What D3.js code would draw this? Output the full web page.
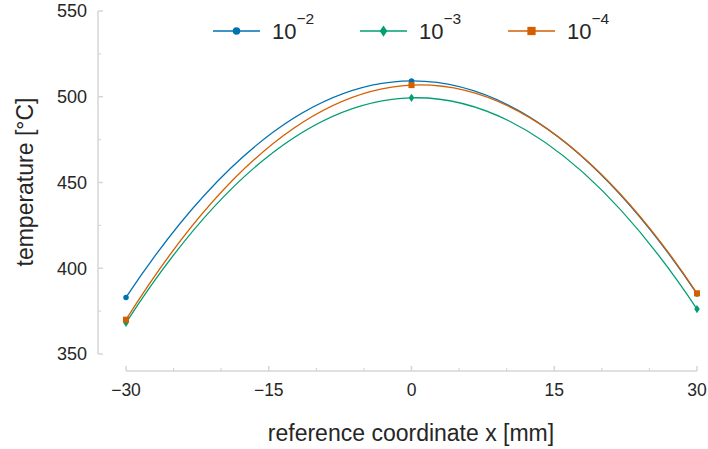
<!DOCTYPE html>
<html>
<head>
<meta charset="utf-8">
<script src="https://cdn.jsdelivr.net/npm/d3@7"></script>
<style>
  html, body { margin: 0; padding: 0; background: #fff; }
  svg { display: block; }
  text { font-family: "Liberation Sans", Arial, Helvetica, sans-serif; fill: #262626; }
</style>
</head>
<body>
<svg id="chart" width="708" height="449"></svg>
<script>
// Positions along the reference coordinate (mm)
const positions = [-30, 0, 30];

// Temperature (°C) for each tolerance setting
const temp1e2 = [383, 509.2, 385];
const temp1e3 = [368.2, 499.4, 376.2];
const temp1e4 = [370, 506.8, 385.4];

// Legend exponents and series colours
const exponents = ["\u22122", "\u22123", "\u22124"];
const colors = ["#0072B2", "#009E73", "#D55E00"];
const markers = ["circle", "diamond", "square"];

// Axis ticks
const xTicks = [-30, -15, 0, 15, 30];
const xMinorTicks = [-25, -20, -10, -5, 5, 10, 20, 25];
const yTicks = [350, 400, 450, 500, 550];
const yMinorTicks = [375, 425, 475, 525];

const svg = d3.select("#chart");

const x = d3.scaleLinear().domain([-30, 30]).range([126, 697]);
const y = d3.scaleLinear().domain([350, 550]).range([354, 11]);

const axisColor = "#d6d6d6";
const yAxisX = 98;
const xAxisY = 371;

// y axis (offset to the left of the data)
const gy = svg.append("g");
gy.append("line")
  .attr("x1", yAxisX).attr("x2", yAxisX)
  .attr("y1", y(550)).attr("y2", y(350))
  .attr("stroke", axisColor).attr("stroke-width", 1.5);
gy.selectAll("line.major").data(yTicks).join("line")
  .attr("class", "major")
  .attr("x1", yAxisX).attr("x2", yAxisX + 5)
  .attr("y1", d => y(d)).attr("y2", d => y(d))
  .attr("stroke", axisColor).attr("stroke-width", 1.5);
gy.selectAll("line.minor").data(yMinorTicks).join("line")
  .attr("class", "minor")
  .attr("x1", yAxisX).attr("x2", yAxisX + 3)
  .attr("y1", d => y(d)).attr("y2", d => y(d))
  .attr("stroke", axisColor).attr("stroke-width", 1.2);
gy.selectAll("text").data(yTicks).join("text")
  .attr("x", 87).attr("y", d => y(d))
  .attr("dy", "0.36em")
  .attr("text-anchor", "end")
  .attr("font-size", 18)
  .text(d => d);

// x axis (offset below the data)
const gx = svg.append("g");
gx.append("line")
  .attr("x1", x(-30)).attr("x2", x(30))
  .attr("y1", xAxisY).attr("y2", xAxisY)
  .attr("stroke", axisColor).attr("stroke-width", 1.5);
gx.selectAll("line.major").data(xTicks).join("line")
  .attr("class", "major")
  .attr("x1", d => x(d)).attr("x2", d => x(d))
  .attr("y1", xAxisY).attr("y2", xAxisY - 5)
  .attr("stroke", axisColor).attr("stroke-width", 1.5);
gx.selectAll("line.minor").data(xMinorTicks).join("line")
  .attr("class", "minor")
  .attr("x1", d => x(d)).attr("x2", d => x(d))
  .attr("y1", xAxisY).attr("y2", xAxisY - 3)
  .attr("stroke", axisColor).attr("stroke-width", 1.2);
const fmt = d3.format("d");
gx.selectAll("text").data(xTicks).join("text")
  .attr("x", d => x(d)).attr("y", 396)
  .attr("text-anchor", "middle")
  .attr("font-size", 17.5)
  .text(d => fmt(d));

// Axis titles
svg.append("text")
  .attr("x", 411).attr("y", 441)
  .attr("text-anchor", "middle")
  .attr("font-size", 23)
  .text("reference coordinate x [mm]");
svg.append("text")
  .attr("transform", "translate(33,182) rotate(-90)")
  .attr("text-anchor", "middle")
  .attr("font-size", 23)
  .text("temperature [\u00B0C]");

// Curve through three evenly spaced points: a single parabola
function CurveParabola(context) { this._context = context; }
CurveParabola.prototype = {
  areaStart() {}, areaEnd() {},
  lineStart() { this._pts = []; },
  lineEnd() {
    const p = this._pts, c = this._context;
    c.moveTo(p[0][0], p[0][1]);
    if (p.length === 3) {
      const cx = 2 * p[1][0] - (p[0][0] + p[2][0]) / 2;
      const cy = 2 * p[1][1] - (p[0][1] + p[2][1]) / 2;
      c.quadraticCurveTo(cx, cy, p[2][0], p[2][1]);
    } else {
      for (let i = 1; i < p.length; i++) c.lineTo(p[i][0], p[i][1]);
    }
  },
  point(px, py) { this._pts.push([px, py]); }
};
const curveParabola = ctx => new CurveParabola(ctx);

const series = [temp1e2, temp1e3, temp1e4].map((vals, i) => ({
  values: vals.map((v, j) => ({ x: positions[j], t: v })),
  color: colors[i],
  marker: markers[i],
  exp: exponents[i]
}));

const line = d3.line()
  .x(d => x(d.x))
  .y(d => y(d.t))
  .curve(curveParabola);

function drawMarker(g, type, cx, cy, color, s) {
  if (type === "circle") {
    g.append("circle").attr("cx", cx).attr("cy", cy).attr("r", s * 0.5)
      .attr("fill", color);
  } else if (type === "square") {
    g.append("rect").attr("x", cx - s * 0.55).attr("y", cy - s * 0.55)
      .attr("width", s * 1.1).attr("height", s * 1.1).attr("fill", color);
  } else {
    const w = s * 0.5, h = s * 0.75;
    g.append("path")
      .attr("d", `M${cx},${cy - h}L${cx + w},${cy}L${cx},${cy + h}L${cx - w},${cy}Z`)
      .attr("fill", color);
  }
}

const plot = svg.append("g");
series.forEach(s => {
  plot.append("path")
    .attr("d", line(s.values))
    .attr("fill", "none")
    .attr("stroke", s.color)
    .attr("stroke-width", 1.3);
  s.values.forEach(d => drawMarker(plot, s.marker, x(d.x), y(d.t), s.color, 5.5));
});

// Legend
const legendX = [213, 360, 508];
const legendY = 31;
series.forEach((s, i) => {
  const g = svg.append("g");
  const x0 = legendX[i];
  g.append("line")
    .attr("x1", x0).attr("x2", x0 + 47)
    .attr("y1", legendY).attr("y2", legendY)
    .attr("stroke", s.color).attr("stroke-width", 1.3);
  drawMarker(g, s.marker, x0 + 23.5, legendY, s.color, 7.5);
  const t = g.append("text")
    .attr("x", x0 + 59).attr("y", 39)
    .attr("font-size", 22);
  t.append("tspan").text("10");
  t.append("tspan").attr("dy", -15).attr("font-size", 15.5).text(s.exp);
});
</script>
</body>
</html>
